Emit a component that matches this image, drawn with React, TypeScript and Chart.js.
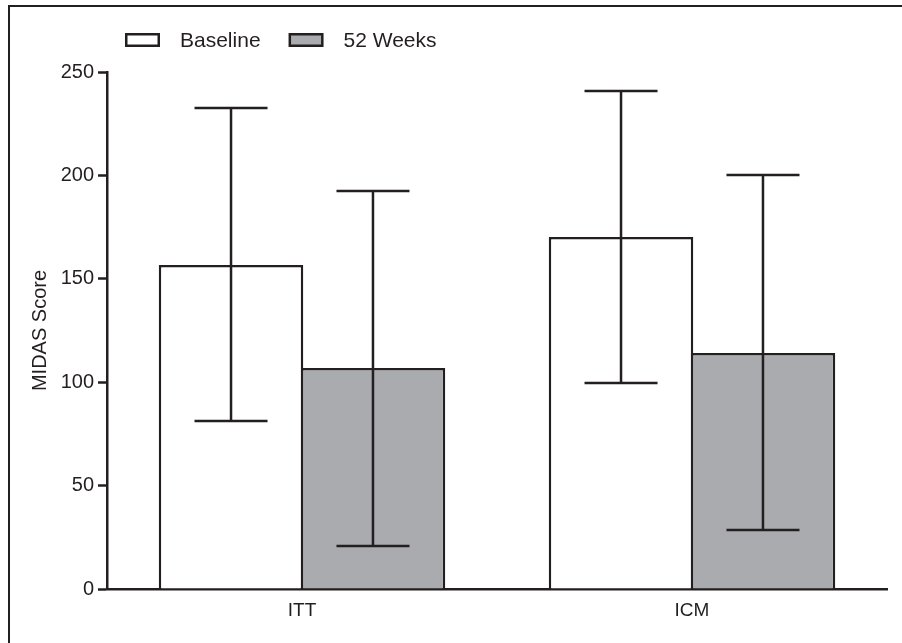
import React, { useEffect, useRef } from "react";
import { Chart, registerables } from "chart.js";

Chart.register(...registerables);

const categories = ["ITT", "ICM"];
const seriesLabels = ["Baseline", "52 Weeks"];
const baselineMean = [156.7, 170.2];
const baselineUpper = [232.6, 240.8];
const baselineLower = [81.2, 99.6];
const weeks52Mean = [106.9, 114.1];
const weeks52Upper = [192.5, 200.2];
const weeks52Lower = [20.8, 28.5];
const yTicks = [0, 50, 100, 150, 200, 250];

const INK = "#231f20";
const FONT_FAMILY = '"Liberation Sans", Arial, Helvetica, sans-serif';

const errorBarPlugin = {
  id: "errorBars",
  afterDatasetsDraw(chart: any) {
    const ctx = chart.ctx;
    const yScale = chart.scales.y;
    ctx.save();
    ctx.strokeStyle = INK;
    ctx.lineWidth = 2.5;
    chart.data.datasets.forEach((ds: any, di: number) => {
      const meta = chart.getDatasetMeta(di);
      meta.data.forEach((bar: any, i: number) => {
        const up = yScale.getPixelForValue(ds.errUpper[i]);
        const lo = yScale.getPixelForValue(ds.errLower[i]);
        const x = bar.x;
        const half = 36.5;
        ctx.beginPath();
        ctx.moveTo(x, up);
        ctx.lineTo(x, lo);
        ctx.moveTo(x - half, up);
        ctx.lineTo(x + half, up);
        ctx.moveTo(x - half, lo);
        ctx.lineTo(x + half, lo);
        ctx.stroke();
      });
    });
    ctx.restore();
  },
};

const legendPlugin = {
  id: "customLegend",
  afterDraw(chart: any) {
    const ctx = chart.ctx;
    const { left } = chart.chartArea;
    let x = left + 18;
    const y = 40;
    ctx.save();
    ctx.font = `21px ${FONT_FAMILY}`;
    ctx.textBaseline = "middle";
    ctx.textAlign = "left";
    chart.data.datasets.forEach((ds: any) => {
      ctx.fillStyle = ds.backgroundColor;
      ctx.strokeStyle = INK;
      ctx.lineWidth = 2.5;
      ctx.fillRect(x + 1.25, y - 7 + 1.25, 32.5, 11.5);
      ctx.strokeRect(x + 1.25, y - 7 + 1.25, 32.5, 11.5);
      x += 35 + 19;
      ctx.fillStyle = INK;
      ctx.fillText(ds.label, x + 1, y + 1);
      x += ctx.measureText(ds.label).width + 29;
    });
    ctx.restore();
  },
};

export default function App() {
  const canvasRef = useRef<HTMLCanvasElement | null>(null);

  useEffect(() => {
    const canvas = canvasRef.current;
    if (!canvas) return;
    const chart = new Chart(canvas, {
      type: "bar",
      data: {
        labels: categories,
        datasets: [
          {
            label: seriesLabels[0],
            data: baselineMean,
            errUpper: baselineUpper,
            errLower: baselineLower,
            backgroundColor: "#ffffff",
            borderColor: INK,
            borderWidth: 2.5,
            barPercentage: 1.018,
            categoryPercentage: 0.728,
          } as any,
          {
            label: seriesLabels[1],
            data: weeks52Mean,
            errUpper: weeks52Upper,
            errLower: weeks52Lower,
            backgroundColor: "#aaabae",
            borderColor: INK,
            borderWidth: 2.5,
            barPercentage: 1.018,
            categoryPercentage: 0.728,
          } as any,
        ],
      },
      options: {
        responsive: false,
        animation: false,
        devicePixelRatio: 1,
        layout: { padding: { left: 0, right: 15, top: 72, bottom: 0 } },
        plugins: {
          legend: { display: false },
          tooltip: { enabled: false },
        },
        scales: {
          x: {
            z: 1,
            grid: { display: false, drawTicks: false },
            border: { display: true, color: INK, width: 2.5 },
            ticks: {
              color: INK,
              font: { family: FONT_FAMILY, size: 19 },
              padding: 10,
            },
            afterFit: (scale: any) => {
              scale.height = 54;
            },
          },
          y: {
            z: 1,
            min: 0,
            max: 250,
            afterBuildTicks: (scale: any) => {
              scale.ticks = yTicks.map((v) => ({ value: v }));
            },
            grid: {
              display: true,
              drawOnChartArea: false,
              drawTicks: true,
              tickLength: 9,
              tickWidth: 2.5,
              tickColor: INK,
              color: INK,
            },
            border: { display: true, color: INK, width: 2.5 },
            ticks: {
              color: INK,
              font: { family: FONT_FAMILY, size: 20 },
              padding: 4,
            },
            title: {
              display: true,
              text: "MIDAS Score",
              color: INK,
              font: { family: FONT_FAMILY, size: 20 },
              padding: { top: 28, bottom: 0 },
            },
            afterFit: (scale: any) => {
              scale.width = 107;
            },
          },
        },
      },
      plugins: [errorBarPlugin, legendPlugin],
    } as any);
    return () => chart.destroy();
  }, []);

  return (
    <div
      style={{
        position: "fixed",
        left: 0,
        top: 0,
        width: 902,
        height: 643,
        background: "#ffffff",
        overflow: "hidden",
      }}
    >
      <div
        style={{
          position: "absolute",
          left: 8,
          top: 5,
          width: 1000,
          height: 1000,
          borderTop: `2.5px solid ${INK}`,
          borderLeft: `2.5px solid ${INK}`,
        }}
      />
      <canvas
        ref={canvasRef}
        width={902}
        height={643}
        style={{ position: "absolute", left: 0, top: 0, width: 902, height: 643 }}
      />
    </div>
  );
}
